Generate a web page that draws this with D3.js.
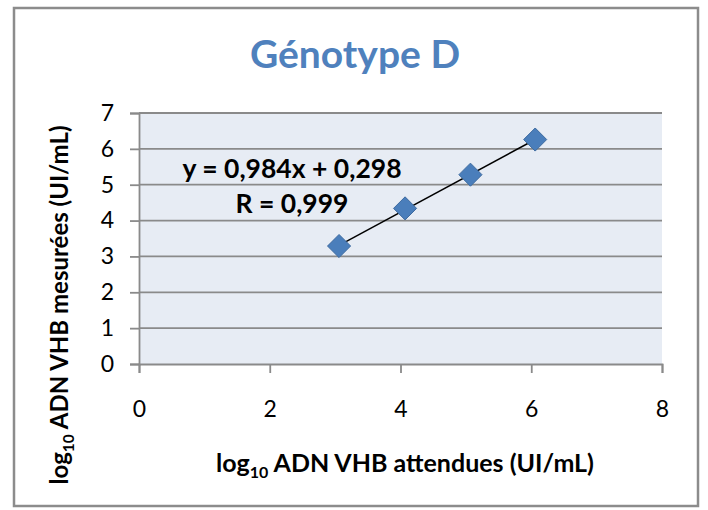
<!DOCTYPE html>
<html>
<head>
<meta charset="utf-8">
<script src="https://cdn.jsdelivr.net/npm/d3@7"></script>
<style>
  html, body { margin: 0; padding: 0; background: #fff; }
  svg { display: block; }
  text { font-family: Lato, "Open Sans", sans-serif; }
</style>
</head>
<body>
<svg id="chart" width="708" height="510"></svg>
<script>
// Expected vs measured log10 HBV DNA, genotype D
const expectedLog = [3.06, 4.07, 5.07, 6.06];
const measuredLog = [3.29, 4.34, 5.28, 6.26];
const slope = 0.984;
const intercept = 0.298;
const rValue = "0,999";
const xTicks = [0, 2, 4, 6, 8];
const yTicks = [0, 1, 2, 3, 4, 5, 6, 7];
const titleText = "Génotype D";

const svg = d3.select("#chart");
const plot = { left: 139, right: 662, top: 113, bottom: 364 };

// outer chart frame
svg.append("rect")
  .attr("x", 14).attr("y", 8)
  .attr("width", 684).attr("height", 498)
  .attr("fill", "#fff")
  .attr("stroke", "#8c8c8c")
  .attr("stroke-width", 2.5);

const x = d3.scaleLinear().domain([0, 8]).range([plot.left, plot.right]);
const y = d3.scaleLinear().domain([0, 7]).range([plot.bottom, plot.top]);

// plot area background
svg.append("rect")
  .attr("x", plot.left).attr("y", plot.top)
  .attr("width", plot.right - plot.left)
  .attr("height", plot.bottom - plot.top)
  .attr("fill", "#e7ecf4");

// horizontal gridlines
svg.append("g")
  .selectAll("line")
  .data(yTicks.filter(d => d > 0))
  .join("line")
  .attr("x1", plot.left).attr("x2", plot.right)
  .attr("y1", d => y(d)).attr("y2", d => y(d))
  .attr("stroke", "#8a8a8a")
  .attr("stroke-width", 1.8);

// y axis
const yAxis = svg.append("g")
  .attr("transform", `translate(${plot.left},0)`)
  .call(d3.axisLeft(y).tickValues(yTicks).tickFormat(d3.format("d")).tickSize(9).tickPadding(16));
yAxis.select(".domain").attr("stroke", "#8a8a8a").attr("stroke-width", 1.8);
yAxis.selectAll(".tick line").attr("stroke", "#8a8a8a").attr("stroke-width", 1.8);
yAxis.selectAll(".tick text")
  .attr("font-family", "Lato, sans-serif")
  .attr("font-size", 23)
  .attr("fill", "#000");

// x axis
const xAxis = svg.append("g")
  .attr("transform", `translate(0,${plot.bottom})`)
  .call(d3.axisBottom(x).tickValues(xTicks).tickFormat(d3.format("d")).tickSize(9).tickPadding(28));
xAxis.select(".domain").attr("stroke", "#8a8a8a").attr("stroke-width", 1.8);
xAxis.selectAll(".tick line").attr("stroke", "#8a8a8a").attr("stroke-width", 1.8);
xAxis.selectAll(".tick text")
  .attr("font-family", "Lato, sans-serif")
  .attr("font-size", 23)
  .attr("fill", "#000");

// linear trendline over the data range
const xMin = d3.min(expectedLog), xMax = d3.max(expectedLog);
svg.append("line")
  .attr("x1", x(xMin)).attr("y1", y(slope * xMin + intercept))
  .attr("x2", x(xMax)).attr("y2", y(slope * xMax + intercept))
  .attr("stroke", "#000")
  .attr("stroke-width", 1.5);

// diamond markers
const pts = expectedLog.map((v, i) => [v, measuredLog[i]]);
svg.append("g")
  .selectAll("path")
  .data(pts)
  .join("path")
  .attr("transform", d => `translate(${x(d[0])},${y(d[1])})`)
  .attr("d", d3.symbol(d3.symbolDiamond2, 340)())
  .attr("fill", "#4a7ebb")
  .attr("stroke", "#3d6a9f")
  .attr("stroke-width", 1);

// regression annotation
const fmt = v => String(v).replace(".", ",");
svg.append("text")
  .attr("x", 292).attr("y", 178)
  .attr("text-anchor", "middle")
  .attr("font-weight", "bold")
  .attr("font-size", 26.5)
  .text(`y = ${fmt(slope)}x + ${fmt(intercept)}`);
svg.append("text")
  .attr("x", 292).attr("y", 213)
  .attr("text-anchor", "middle")
  .attr("font-weight", "bold")
  .attr("font-size", 26.5)
  .text(`R = ${rValue}`);

// title
svg.append("text")
  .attr("x", 355).attr("y", 68)
  .attr("text-anchor", "middle")
  .attr("font-weight", "bold")
  .attr("font-size", 39)
  .attr("fill", "#4f81bd")
  .text(titleText);

// x axis title
const xt = svg.append("text")
  .attr("x", 405).attr("y", 472)
  .attr("text-anchor", "middle")
  .attr("font-weight", "bold")
  .attr("font-size", 25);
xt.append("tspan").text("log");
xt.append("tspan").attr("font-size", 16).attr("dy", 6).text("10");
xt.append("tspan").attr("dy", -6).text(" ADN VHB attendues (UI/mL)");

// y axis title
const yt = svg.append("text")
  .attr("transform", "translate(68,305) rotate(-90)")
  .attr("text-anchor", "middle")
  .attr("font-weight", "bold")
  .attr("font-size", 24);
yt.append("tspan").text("log");
yt.append("tspan").attr("font-size", 15.5).attr("dy", 6).text("10");
yt.append("tspan").attr("dy", -6).text(" ADN VHB mesurées (UI/mL)");
</script>
</body>
</html>
